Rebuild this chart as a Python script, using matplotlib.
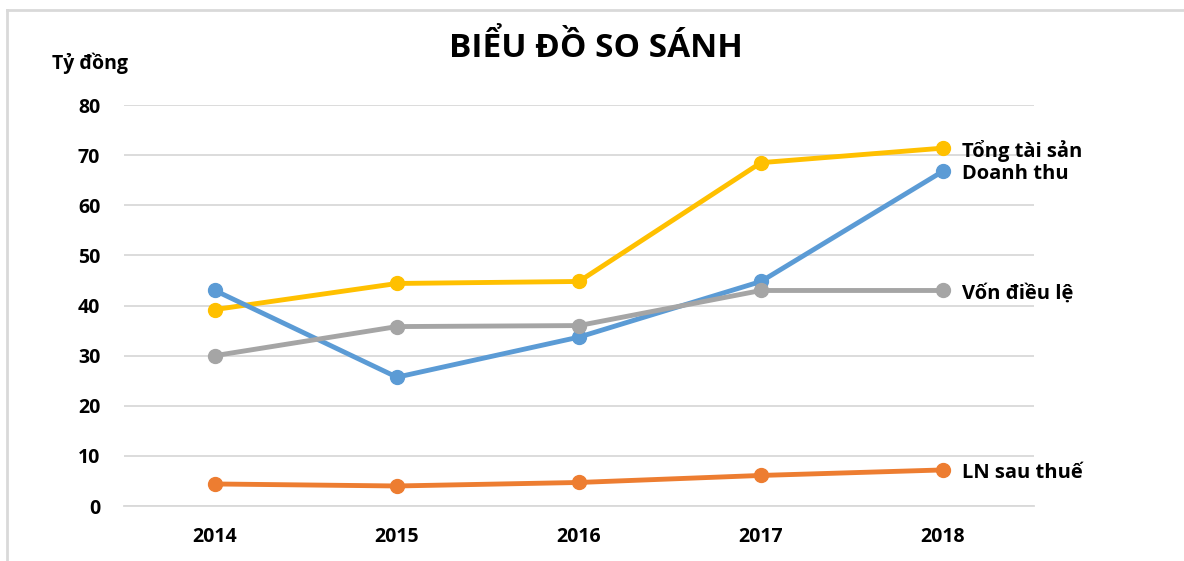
import matplotlib.pyplot as plt
from matplotlib.lines import Line2D

plt.rcParams["font.family"] = ["Open Sans", "DejaVu Sans"]
plt.rcParams["font.weight"] = "bold"

years = ["2014", "2015", "2016", "2017", "2018"]
tong_tai_san = [39.2, 44.4, 44.8, 68.5, 71.4]
doanh_thu = [43.0, 25.7, 33.7, 44.8, 66.8]
von_dieu_le = [30.0, 35.8, 36.0, 43.0, 43.0]
ln_sau_thue = [4.4, 4.0, 4.7, 6.1, 7.2]

series = [
    ("Tổng tài sản", tong_tai_san, "#FFC000"),
    ("Doanh thu", doanh_thu, "#5B9BD5"),
    ("Vốn điều lệ", von_dieu_le, "#A5A5A5"),
    ("LN sau thuế", ln_sau_thue, "#ED7D31"),
]

fig = plt.figure(figsize=(11.84, 5.61), dpi=100)
ax = fig.add_axes([0.1047, 0.098, 0.7686, 0.7148])

x = list(range(len(years)))
for label, vals, color in series:
    ax.plot(x, vals, color=color, lw=3.5, marker="o", ms=10,
            solid_capstyle="round", zorder=3)
    ax.annotate(label, xy=(x[-1], vals[-1]), xytext=(14, -2),
                textcoords="offset points", va="center", ha="left",
                fontsize=14.5, fontweight="bold", color="black",
                annotation_clip=False)

ax.set_xlim(-0.5, len(years) - 0.5)
ax.set_ylim(0, 80)
ax.set_yticks(range(0, 81, 10))
ax.set_xticks(x)
ax.set_xticklabels(years)
ax.grid(axis="y", color="#D9D9D9", lw=1.3)
ax.set_axisbelow(True)
for s in ax.spines.values():
    s.set_visible(False)
ax.spines["bottom"].set_visible(True)
ax.spines["bottom"].set_color("#D9D9D9")
ax.spines["bottom"].set_linewidth(1.3)
ax.tick_params(axis="y", length=0, pad=17, labelsize=14)
ax.tick_params(axis="x", length=0, pad=15, labelsize=14)

fig.text(0.503, 0.914, "BIỂU ĐỒ SO SÁNH", ha="center", va="center",
         fontsize=24, fontweight="bold")
fig.text(0.044, 0.888, "Tỷ đồng", ha="left", va="center",
         fontsize=14, fontweight="bold")

# light frame around the chart area (left and top edges)
fig.add_artist(Line2D([0.006, 0.006], [0.0, 0.982], color="#D9D9D9", lw=2))
fig.add_artist(Line2D([0.006, 1.0], [0.982, 0.982], color="#D9D9D9", lw=2))

fig.savefig("out.png", dpi=100)
